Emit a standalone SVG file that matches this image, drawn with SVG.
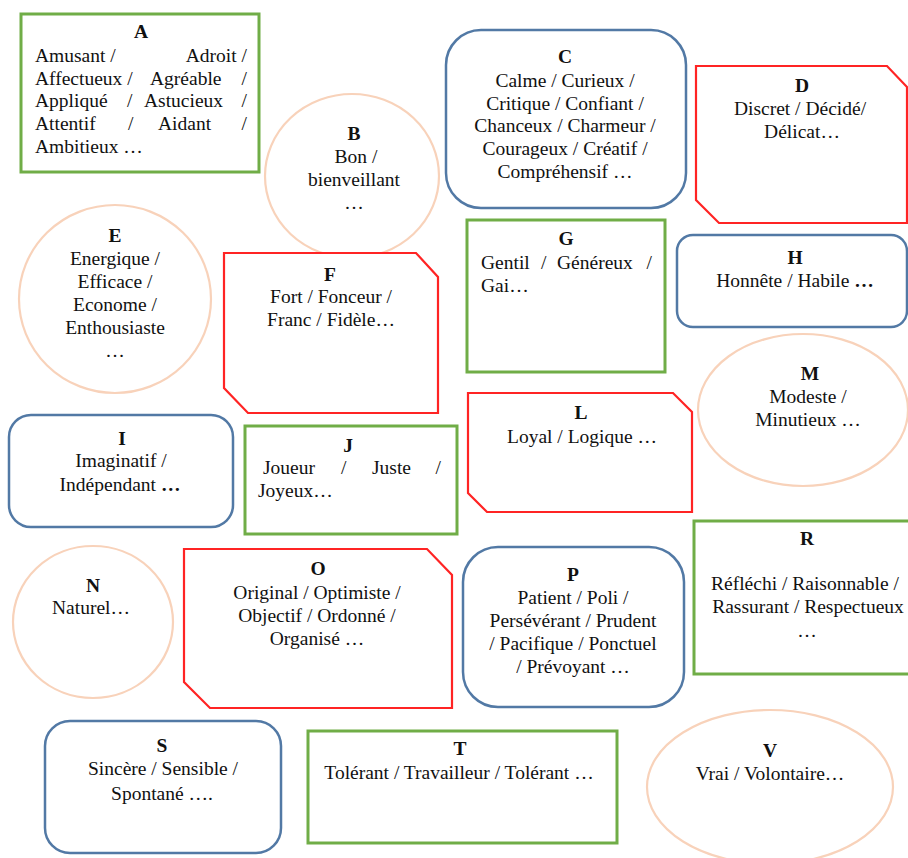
<svg xmlns="http://www.w3.org/2000/svg" width="908" height="858" viewBox="0 0 908 858" font-family="'Liberation Serif', 'Times New Roman', serif">
<style>
text{font-family:"Liberation Serif","Times New Roman",serif;font-size:19.5px;fill:#111;}
.t{font-weight:bold;text-anchor:middle;}
.c{text-anchor:middle;}
.e{text-anchor:end;}
.b{font-weight:bold;}
.green{fill:#fff;stroke:#70AD47;stroke-width:3;}
.blue{fill:#fff;stroke:#5279A5;stroke-width:2.5;}
.red{fill:#fff;stroke:#FF2424;stroke-width:2.2;}
.peach{fill:#fff;stroke:#F8D2BA;stroke-width:2.2;}
</style>
<rect width="908" height="858" fill="#fff"/>
<g id="connectors"/>
<g id="A">
<rect class="green" x="21" y="14" width="238" height="158"/>
<text class="t" x="141" y="38">A</text>
<text x="35" y="62">Amusant /</text><text class="e" x="247" y="62">Adroit /</text>
<text x="35" y="85">Affectueux /</text><text x="150" y="85">Agréable</text><text class="e" x="247" y="85">/</text>
<text x="35" y="107">Appliqué</text><text x="127" y="107">/</text><text x="144" y="107">Astucieux</text><text class="e" x="247" y="107">/</text>
<text x="35" y="130">Attentif</text><text x="128" y="130">/</text><text x="158" y="130">Aidant</text><text class="e" x="247" y="130">/</text>
<text x="35" y="153">Ambitieux …</text>
</g>
<g id="B">
<ellipse class="peach" cx="352" cy="176" rx="87" ry="82"/>
<text class="t" x="354" y="140">B</text>
<text class="c" x="356" y="163">Bon /</text>
<text class="c" x="354" y="186">bienveillant</text>
<text class="c" x="354" y="209">…</text>
</g>
<g id="C">
<rect class="blue" x="446" y="30" width="240" height="178" rx="35"/>
<text class="t" x="565" y="63">C</text>
<text class="c" x="565" y="87">Calme / Curieux /</text>
<text class="c" x="565" y="110">Critique / Confiant /</text>
<text class="c" x="565" y="132">Chanceux / Charmeur /</text>
<text class="c" x="565" y="155">Courageux / Créatif /</text>
<text class="c" x="565" y="178">Compréhensif …</text>
</g>
<g id="D">
<polygon class="red" points="696,66 887,66 907,87 907,223 719,223 696,200"/>
<text class="t" x="802" y="92">D</text>
<text class="c" x="800" y="115">Discret / Décidé/</text>
<text class="c" x="802" y="138">Délicat…</text>
</g>
<g id="E">
<ellipse class="peach" cx="115" cy="299" rx="96" ry="94"/>
<text class="t" x="115" y="242">E</text>
<text class="c" x="115" y="265">Energique /</text>
<text class="c" x="115" y="288">Efficace /</text>
<text class="c" x="115" y="311">Econome /</text>
<text class="c" x="115" y="334">Enthousiaste</text>
<text class="c" x="115" y="357">…</text>
</g>
<g id="F">
<polygon class="red" points="224,253 416,253 438,277 438,413 248,413 224,388"/>
<text class="t" x="330" y="281">F</text>
<text class="c" x="331" y="303">Fort / Fonceur /</text>
<text class="c" x="331" y="326">Franc / Fidèle…</text>
</g>
<g id="G">
<rect class="green" x="467" y="220" width="198" height="152"/>
<text class="t" x="566" y="245">G</text>
<text x="481" y="269">Gentil</text><text x="541" y="269">/</text><text x="557" y="269">Généreux</text><text class="e" x="652" y="269">/</text>
<text x="481" y="292">Gai…</text>
</g>
<g id="H">
<rect class="blue" x="677" y="235" width="230" height="92" rx="16"/>
<text class="t" x="795" y="264">H</text>
<text class="c" x="795" y="287">Honnête / Habile <tspan class="b">…</tspan></text>
</g>
<g id="I">
<rect class="blue" x="9" y="415" width="224" height="112" rx="22"/>
<text class="t" x="122" y="445">I</text>
<text class="c" x="121" y="467">Imaginatif /</text>
<text class="c" x="120" y="491">Indépendant <tspan class="b">…</tspan></text>
</g>
<g id="J">
<rect class="green" x="245" y="426" width="212" height="108"/>
<text class="t" x="348" y="452">J</text>
<text x="263" y="474">Joueur</text><text x="341" y="474">/</text><text x="372" y="474">Juste</text><text class="e" x="441" y="474">/</text>
<text x="258" y="497">Joyeux…</text>
</g>
<g id="L">
<polygon class="red" points="468,393 673,393 692,412 692,512 487,512 468,493"/>
<text class="t" x="581" y="419">L</text>
<text class="c" x="582" y="443">Loyal / Logique …</text>
</g>
<g id="M">
<ellipse class="peach" cx="803" cy="410" rx="105" ry="76"/>
<text class="t" x="810" y="380">M</text>
<text class="c" x="808" y="403">Modeste /</text>
<text class="c" x="808" y="426">Minutieux …</text>
</g>
<g id="N">
<ellipse class="peach" cx="93" cy="622" rx="80" ry="76"/>
<text class="t" x="93" y="592">N</text>
<text class="c" x="91" y="614">Naturel…</text>
</g>
<g id="O">
<polygon class="red" points="184,549 427,549 452,575 452,708 210,708 184,682"/>
<text class="t" x="318" y="575">O</text>
<text class="c" x="317" y="599">Original / Optimiste /</text>
<text class="c" x="317" y="622">Objectif / Ordonné /</text>
<text class="c" x="317" y="645">Organisé …</text>
</g>
<g id="P">
<rect class="blue" x="463" y="547" width="221" height="160" rx="35"/>
<text class="t" x="573" y="581">P</text>
<text class="c" x="573" y="604">Patient / Poli /</text>
<text class="c" x="573" y="627">Persévérant / Prudent</text>
<text class="c" x="573" y="650">/ Pacifique / Ponctuel</text>
<text class="c" x="573" y="673">/ Prévoyant …</text>
</g>
<g id="R">
<rect class="green" x="694" y="521" width="218" height="153"/>
<text class="t" x="807" y="545">R</text>
<text class="c" x="805" y="590">Réfléchi / Raisonnable /</text>
<text class="c" x="808" y="613">Rassurant / Respectueux</text>
<text class="c" x="807" y="637">…</text>
</g>
<g id="S">
<rect class="blue" x="45" y="721" width="236" height="132" rx="25"/>
<text class="t" x="162" y="752">S</text>
<text class="c" x="163" y="775">Sincère / Sensible /</text>
<text class="c" x="162" y="800">Spontané ….</text>
</g>
<g id="T">
<rect class="green" x="308" y="731" width="309" height="112"/>
<text class="t" x="460" y="755">T</text>
<text class="c" x="459" y="779">Tolérant / Travailleur / Tolérant …</text>
</g>
<g id="V">
<ellipse class="peach" cx="770" cy="787" rx="123" ry="77"/>
<text class="t" x="770" y="757">V</text>
<text class="c" x="770" y="780">Vrai / Volontaire…</text>
</g>
</svg>
